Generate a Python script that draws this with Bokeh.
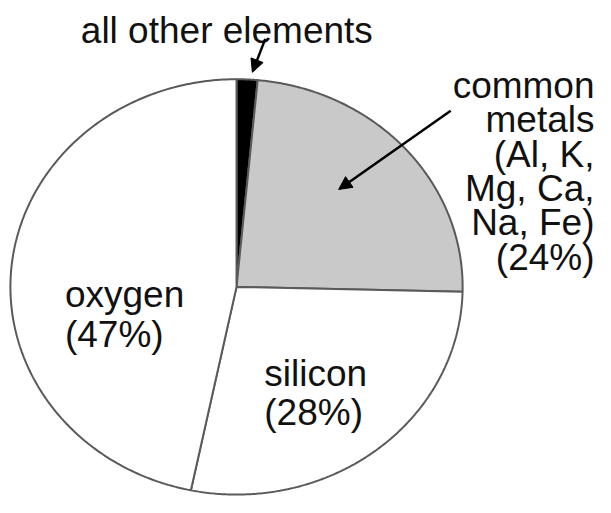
import numpy as np
from bokeh.plotting import figure
from bokeh.models import Range1d, Label, Arrow, NormalHead, ColumnDataSource
from bokeh.embed import file_html
from bokeh.resources import INLINE

# ---- data ----
elements = ["all other elements", "common metals", "silicon", "oxygen"]
percent = [1.5, 24, 28, 47]
fills = ["#000000", "#c9c9c9", "#ffffff", "#ffffff"]
oxygen_label = ["oxygen", "(47%)"]
silicon_label = ["silicon", "(28%)"]
metals_label = ["common", "metals", "(Al, K,", "Mg, Ca,", "Na, Fe)", "(24%)"]
other_label = "all other elements"

# ---- figure ----
p = figure(width=595, height=497, output_backend="svg", toolbar_location=None,
           x_range=Range1d(6, 606), y_range=Range1d(511, 6), min_border=0)
p.axis.visible = False
p.grid.visible = False
p.outline_line_color = None
p.background_fill_color = "white"
p.border_fill_color = "white"

# pie as ellipse, clockwise from top
cx, cy, rx, ry = 244, 297, 228, 211
fr = np.array(percent, dtype=float)
fr = fr / fr.sum()
starts = np.pi / 2 - 2 * np.pi * np.concatenate([[0], np.cumsum(fr)[:-1]])
ends = starts - 2 * np.pi * fr
xs, ys = [], []
for a0, a1 in zip(starts, ends):
    t = np.linspace(a0, a1, 200)
    xs.append([cx] + list(cx + rx * np.cos(t)) + [cx])
    ys.append([cy] + list(cy - ry * np.sin(t)) + [cy])
src = ColumnDataSource(dict(xs=xs, ys=ys, fill=fills, name=elements))
p.patches("xs", "ys", source=src, fill_color="fill", line_color="#5a5a5a", line_width=2)

FONT = "Liberation Sans"
FS = "37px"
COL = "#111111"

def lab(txt, x, y, align="left"):
    p.add_layout(Label(x=x, y=y, text=txt, text_font=FONT, text_font_size=FS,
                       text_color=COL, text_align=align, text_baseline="alphabetic"))

lab(other_label, 87, 36)
for i, t in enumerate(metals_label):
    lab(t, 605, 92 + 35 * i, "right")
for i, t in enumerate(oxygen_label):
    lab(t, 71, 305 + 40 * i)
for i, t in enumerate(silicon_label):
    lab(t, 272, 385 + 40 * i)

for (x0, y0, x1, y1) in [(273, 45, 260, 79), (460, 118, 347, 198)]:
    p.add_layout(Arrow(end=NormalHead(size=13, fill_color="black", line_color="black"),
                       x_start=x0, y_start=y0, x_end=x1, y_end=y1,
                       line_width=2.5, line_color="black"))

open("out.html", "w").write(file_html(p, INLINE))
